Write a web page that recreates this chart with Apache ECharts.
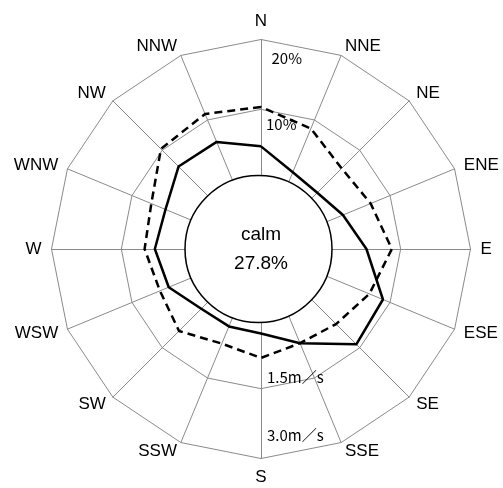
<!DOCTYPE html>
<html>
<head>
<meta charset="utf-8">
<script src="https://cdn.jsdelivr.net/npm/echarts@6/dist/echarts.min.js"></script>
<style>html,body{margin:0;padding:0;background:#fff}#c{width:503px;height:488px}</style>
</head>
<body>
<div id="c"></div>
<script>
// Directions, clockwise from north
const directions = ['N','NNE','NE','ENE','E','ESE','SE','SSE','S','SSW','SW','WSW','W','WNW','NW','NNW'];
// Wind direction frequency (%) - solid line
const frequency = [4.7, 1.9, 1.4, 2.7, 5.1, 8.9, 9.3, 4.6, 2.1, 2.0, 2.1, 4.3, 5.2, 4.8, 6.7, 6.6];
// Mean wind speed (m/s) - dashed line
const meanSpeed = [1.55, 1.30, 0.95, 1.05, 1.31, 1.02, 0.78, 0.69, 0.84, 0.70, 0.99, 0.85, 1.00, 1.05, 1.54, 1.64];
const calmText = 'calm';
const calmValue = '27.8%';
const freqTicks = ['10%', '20%'];
const speedTicks = ['1.5m／s', '3.0m／s'];

const cx = 261, cy = 249, R = 209.5;
const freqRange = [-10, 20];
const speedRange = [-1.5, 3.0];

// ECharts radar places indicators counter-clockwise: reorder so they run clockwise.
const n = directions.length;
const order = directions.map((d, i) => (n - i) % n);

const grey = '#8a8a8a';
const ringR = v => R * (v - freqRange[0]) / (freqRange[1] - freqRange[0]);
const ringRs = v => R * (v - speedRange[0]) / (speedRange[1] - speedRange[0]);

const chart = echarts.init(document.getElementById('c'), null, {renderer: 'canvas'});
const tickFont = {fontSize: 15, fontFamily: '"Noto Sans CJK JP", "Noto Sans", sans-serif'};
const graphics = [
  {type: 'circle', z: 5, shape: {cx: cx - 2.5, cy: cy, r: 73.5},
   style: {fill: '#fff', stroke: '#000', lineWidth: 1.5}},
  {type: 'text', z: 6, x: cx, y: cy - 14.5,
   style: {text: calmText, fill: '#000', fontSize: 19, fontFamily: 'Liberation Sans, Arial, sans-serif', align: 'center', verticalAlign: 'middle', textAlign: 'center', textVerticalAlign: 'middle'}},
  {type: 'text', z: 6, x: cx, y: cy + 14.5,
   style: {text: calmValue, fill: '#000', fontSize: 19, fontFamily: 'Liberation Sans, Arial, sans-serif', align: 'center', verticalAlign: 'middle', textAlign: 'center', textVerticalAlign: 'middle'}}
];
const freqTickVals = [10, 20];
const freqOff = [[5, 14.7], [10.5, 18.5]];
freqTicks.forEach((t, k) => {
  graphics.push({type: 'text', z: 6, x: cx + freqOff[k][0], y: cy - ringR(freqTickVals[k]) + freqOff[k][1],
    style: Object.assign({text: t, fill: '#000', align: 'left', verticalAlign: 'middle', textAlign: 'left', textVerticalAlign: 'middle'}, tickFont)});
});
const speedTickVals = [1.5, 3.0];
const speedOff = [[6, -11.5], [6, -23.5]];
speedTicks.forEach((t, k) => {
  graphics.push({type: 'text', z: 6, x: cx + speedOff[k][0], y: cy + ringRs(speedTickVals[k]) + speedOff[k][1],
    style: Object.assign({text: t, fill: '#000', align: 'left', verticalAlign: 'middle', textAlign: 'left', textVerticalAlign: 'middle'}, tickFont)});
});

chart.setOption({
  backgroundColor: '#fff',
  animation: false,
  radar: [
    {
      center: [cx, cy], radius: R, startAngle: 90, splitNumber: 3, shape: 'polygon',
      indicator: order.map(i => ({name: directions[i], min: freqRange[0], max: freqRange[1]})),
      nameGap: 10,
      axisName: {color: '#000', fontSize: 17, fontFamily: 'Liberation Sans, Arial, sans-serif'},
      axisLine: {lineStyle: {color: grey, width: 1}},
      splitLine: {lineStyle: {color: grey, width: 1}},
      splitArea: {show: false},
      axisTick: {show: false},
      axisLabel: {show: false},
      z: 0
    },
    {
      center: [cx, cy], radius: R, startAngle: 90, splitNumber: 3, shape: 'polygon',
      indicator: order.map(i => ({name: '', min: speedRange[0], max: speedRange[1]})),
      axisName: {show: false},
      axisLine: {show: false},
      splitLine: {show: false},
      splitArea: {show: false},
      axisTick: {show: false},
      axisLabel: {show: false}
    }
  ],
  graphic: graphics,
  series: [
    {
      type: 'radar', radarIndex: 0, symbol: 'none', z: 3,
      lineStyle: {color: '#000', width: 2.5, type: 'solid'},
      data: [{value: order.map(i => frequency[i]), name: 'frequency'}]
    },
    {
      type: 'radar', radarIndex: 1, symbol: 'none', z: 3,
      lineStyle: {color: '#000', width: 2.5, type: [8, 5]},
      data: [{value: order.map(i => meanSpeed[i]), name: 'speed'}]
    }
  ]
});
</script>
</body>
</html>
